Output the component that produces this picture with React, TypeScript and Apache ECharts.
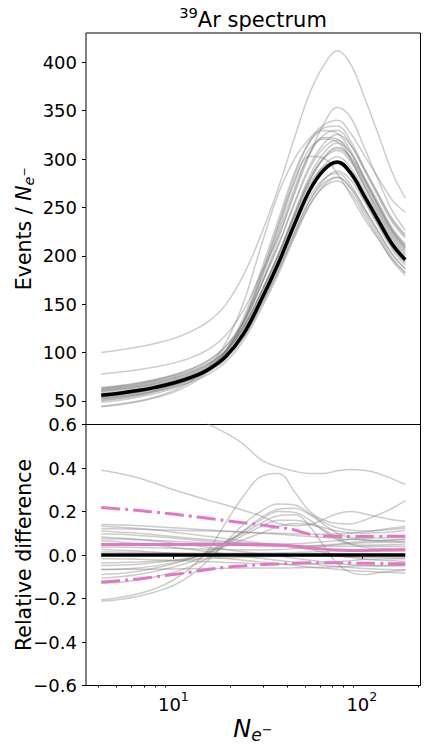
import React, { useEffect, useRef } from 'react';
import * as echarts from 'echarts';

// Sample positions along N_e- (log axis)
const X_VALUES = [4.14, 5.2, 6.5, 8, 10, 12.5, 15.5, 19, 23.5, 29, 36, 44, 53, 63, 74, 87, 103, 122, 145, 170];

// Reference (black) 39Ar spectrum, events / N_e-
const REFERENCE = [55.9, 58, 60.7, 64, 68.5, 74.5, 83, 96, 119, 153, 192, 233, 268, 289, 297, 286, 262, 237, 212, 196];

// Relative differences of the individual (gray) spectra to the reference
const REL_01 = [0.79, 0.77, 0.74, 0.71, 0.67, 0.64, 0.6, 0.56, 0.51, 0.44, 0.405, 0.385, 0.375, 0.375, 0.387, 0.393, 0.39, 0.375, 0.35, 0.324];
const REL_02 = [0.39, 0.375, 0.355, 0.33, 0.3, 0.275, 0.25, 0.23, 0.205, 0.18, 0.145, 0.135, 0.14, 0.165, 0.19, 0.2, 0.19, 0.175, 0.162, 0.155];
const REL_03 = [-0.206, -0.195, -0.178, -0.155, -0.115, -0.055, 0.03, 0.15, 0.27, 0.36, 0.375, 0.29, 0.2, 0.16, 0.145, 0.143, 0.16, 0.185, 0.215, 0.25];
const REL_04 = [-0.213, -0.205, -0.19, -0.17, -0.14, -0.09, -0.02, 0.06, 0.14, 0.2, 0.235, 0.23, 0.19, 0.15, 0.125, 0.115, 0.11, 0.112, 0.118, 0.124];
const REL_05 = [-0.13, -0.125, -0.115, -0.1, -0.08, -0.05, -0.01, 0.05, 0.11, 0.17, 0.21, 0.215, 0.185, 0.14, 0.1, 0.08, 0.07, 0.066, 0.068, 0.07];
const REL_06 = [-0.106, -0.1, -0.09, -0.075, -0.055, -0.03, 0.01, 0.06, 0.11, 0.16, 0.2, 0.195, 0.16, 0.11, 0.07, 0.05, 0.045, 0.046, 0.048, 0.05];
const REL_07 = [-0.09, -0.085, -0.075, -0.06, -0.04, -0.015, 0.02, 0.06, 0.1, 0.145, 0.18, 0.185, 0.13, 0.04, -0.04, -0.08, -0.09, -0.082, -0.075, -0.07];
const REL_08 = [-0.068, -0.065, -0.06, -0.05, -0.035, -0.015, 0.015, 0.05, 0.09, 0.13, 0.16, 0.16, 0.145, 0.125, 0.11, 0.102, 0.1, 0.102, 0.107, 0.114];
const REL_09 = [-0.048, -0.046, -0.042, -0.035, -0.025, -0.01, 0.01, 0.04, 0.07, 0.1, 0.13, 0.145, 0.14, 0.115, 0.08, 0.05, 0.035, 0.03, 0.03, 0.03];
const REL_10 = [0.14, 0.138, 0.135, 0.13, 0.125, 0.12, 0.115, 0.11, 0.105, 0.1, 0.095, 0.09, 0.085, 0.08, 0.076, 0.072, 0.068, 0.064, 0.062, 0.06];
const REL_11 = [0.132, 0.128, 0.122, 0.115, 0.105, 0.095, 0.085, 0.075, 0.065, 0.055, 0.045, 0.035, 0.025, 0.012, 0.0, -0.01, -0.018, -0.024, -0.027, -0.03];
const REL_12 = [0.121, 0.12, 0.118, 0.116, 0.114, 0.112, 0.11, 0.108, 0.105, 0.102, 0.1, 0.098, 0.096, 0.095, 0.096, 0.1, 0.107, 0.115, 0.124, 0.132];
const REL_13 = [0.11, 0.105, 0.1, 0.093, 0.085, 0.077, 0.07, 0.063, 0.057, 0.052, 0.048, 0.045, 0.043, 0.041, 0.04, 0.04, 0.04, 0.04, 0.04, 0.04];
const REL_14 = [0.098, 0.095, 0.09, 0.085, 0.078, 0.07, 0.063, 0.057, 0.052, 0.05, 0.05, 0.052, 0.056, 0.061, 0.066, 0.071, 0.075, 0.078, 0.08, 0.083];
const REL_15 = [0.083, 0.078, 0.072, 0.064, 0.055, 0.045, 0.035, 0.025, 0.015, 0.005, -0.005, -0.015, -0.024, -0.032, -0.039, -0.044, -0.048, -0.05, -0.05, -0.048];
const REL_16 = [0.075, 0.073, 0.07, 0.067, 0.063, 0.059, 0.055, 0.05, 0.046, 0.042, 0.04, 0.04, 0.042, 0.046, 0.051, 0.057, 0.062, 0.067, 0.07, 0.075];
const REL_17 = [0.065, 0.06, 0.053, 0.045, 0.035, 0.025, 0.015, 0.005, -0.005, -0.015, -0.025, -0.033, -0.04, -0.047, -0.053, -0.058, -0.062, -0.065, -0.067, -0.068];
const REL_18 = [0.037, 0.036, 0.035, 0.033, 0.031, 0.029, 0.027, 0.025, 0.024, 0.023, 0.025, 0.03, 0.035, 0.041, 0.047, 0.052, 0.056, 0.058, 0.059, 0.06];
const REL_19 = [0.025, 0.022, 0.018, 0.013, 0.007, 0.0, -0.008, -0.016, -0.024, -0.032, -0.04, -0.048, -0.055, -0.061, -0.066, -0.071, -0.075, -0.078, -0.08, -0.083];
const REL_20 = [0.014, 0.013, 0.012, 0.011, 0.01, 0.009, 0.008, 0.008, 0.008, 0.009, 0.01, 0.012, 0.014, 0.016, 0.018, 0.019, 0.02, 0.02, 0.02, 0.02];
const REL_21 = [-0.017, -0.018, -0.02, -0.022, -0.025, -0.028, -0.031, -0.034, -0.037, -0.04, -0.042, -0.042, -0.04, -0.036, -0.031, -0.026, -0.021, -0.019, -0.017, -0.017];
const REL_22 = [-0.037, -0.035, -0.032, -0.028, -0.024, -0.02, -0.016, -0.013, -0.01, -0.008, -0.006, -0.005, -0.005, -0.006, -0.007, -0.009, -0.01, -0.011, -0.012, -0.013];
const REL_23 = [-0.066, -0.066, -0.066, -0.065, -0.064, -0.063, -0.062, -0.061, -0.06, -0.06, -0.06, -0.059, -0.058, -0.056, -0.054, -0.052, -0.05, -0.049, -0.048, -0.048];

const GRAY_CURVES = [REL_01, REL_02, REL_03, REL_04, REL_05, REL_06, REL_07, REL_08, REL_09, REL_10, REL_11, REL_12,
  REL_13, REL_14, REL_15, REL_16, REL_17, REL_18, REL_19, REL_20, REL_21, REL_22, REL_23];

// Pink summary bands (relative difference)
const PINK_MEAN = [0.048, 0.048, 0.048, 0.048, 0.048, 0.048, 0.048, 0.048, 0.048, 0.047, 0.046, 0.04, 0.033, 0.027, 0.023, 0.021, 0.021, 0.022, 0.023, 0.024];
const PINK_UPPER = [0.218, 0.212, 0.205, 0.197, 0.188, 0.178, 0.168, 0.158, 0.148, 0.139, 0.128, 0.115, 0.095, 0.087, 0.086, 0.085, 0.085, 0.085, 0.086, 0.086];
const PINK_LOWER = [-0.124, -0.118, -0.11, -0.1, -0.09, -0.078, -0.066, -0.056, -0.05, -0.045, -0.041, -0.038, -0.036, -0.036, -0.036, -0.037, -0.038, -0.039, -0.04, -0.04];

// Tick values
const TOP_Y_TICKS = [50, 100, 150, 200, 250, 300, 350, 400];
const X_MAJOR_TICKS = [10, 100];
const X_MINOR_TICKS = [4, 5, 6, 7, 8, 9, 20, 30, 40, 50, 60, 70, 80, 90, 200];

const FONT = 'DejaVu Sans';
const GRAY = 'rgba(128,128,128,0.4)';
const PINK = '#e377c2';

function lineSeries(xi: number, yi: number, data: number[][], color: string, width: number, type: any, z: number) {
  return {
    type: 'line', xAxisIndex: xi, yAxisIndex: yi, data, symbol: 'none', showSymbol: false,
    smooth: 0.4, silent: true, z, emphasis: { disabled: true },
    lineStyle: { color, width, type, cap: 'butt' },
  };
}

function buildOption() {
  const lx = X_VALUES.map((v) => Math.log10(v));
  const span = lx[lx.length - 1] - lx[0];
  const xMin = lx[0] - 0.05 * span;
  const xMax = lx[lx.length - 1] + 0.05 * span;

  const topCurves = GRAY_CURVES.map((rel) => rel.map((r, i) => REFERENCE[i] * (1 + r)));
  const allTop = topCurves.flat().concat(REFERENCE);
  const tMin = Math.min(...allTop);
  const tMax = Math.max(...allTop);
  const yMin = tMin - 0.05 * (tMax - tMin);
  const yMax = tMax + 0.05 * (tMax - tMin);

  const pts = (vals: number[]) => vals.map((v, i) => [lx[i], v]);

  const series: any[] = [];
  topCurves.forEach((c) => series.push(lineSeries(0, 0, pts(c), GRAY, 1.5, 'solid', 2)));
  series.push(lineSeries(0, 0, pts(REFERENCE), '#000', 3.5, 'solid', 5));
  GRAY_CURVES.forEach((c) => series.push(lineSeries(1, 1, pts(c), GRAY, 1.5, 'solid', 2)));
  series.push(lineSeries(1, 1, pts(REFERENCE.map((v) => v / v - 1)), '#000', 3.5, 'solid', 5));
  series.push(lineSeries(1, 1, pts(PINK_MEAN), PINK, 3, 'solid', 6));
  series.push(lineSeries(1, 1, pts(PINK_UPPER), PINK, 3, [19, 5, 3, 5], 6));
  series.push(lineSeries(1, 1, pts(PINK_LOWER), PINK, 3, [19, 5, 3, 5], 6));

  const gridBase = { left: 86, width: 334.5, show: true, borderColor: '#000', borderWidth: 1, backgroundColor: 'transparent', containLabel: false };

  const tickStyle = { color: '#000', width: 1 };
  const labelBase = { color: '#000', fontSize: 18, fontFamily: FONT };

  return {
    animation: false,
    backgroundColor: '#fff',
    textStyle: { fontFamily: FONT },
    grid: [
      { ...gridBase, top: 33, height: 391.5 },
      { ...gridBase, top: 424.5, height: 261 },
    ],
    xAxis: [
      {
        type: 'value', gridIndex: 0, min: xMin, max: xMax, position: 'bottom',
        axisLine: { show: false }, axisTick: { show: false }, axisLabel: { show: false }, splitLine: { show: false },
      },
      {
        type: 'value', gridIndex: 1, min: xMin, max: xMax, position: 'bottom', offset: 0,
        axisLine: { show: false }, splitLine: { show: false },
        axisTick: { show: true, length: 4, lineStyle: tickStyle, customValues: X_MAJOR_TICKS.map((v) => Math.log10(v)) },
        axisLabel: {
          show: true, margin: 4, customValues: X_MAJOR_TICKS.map((v) => Math.log10(v)),
          formatter: (v: number) => `{b|10}{s|${Math.round(v)}}`,
          rich: {
            b: { fontSize: 18, fontFamily: FONT, color: '#000', lineHeight: 30, verticalAlign: 'middle' },
            s: { fontSize: 12.6, fontFamily: FONT, color: '#000', lineHeight: 14, verticalAlign: 'top' },
          },
        },
      },
      {
        type: 'value', gridIndex: 1, min: xMin, max: xMax, position: 'bottom', offset: 0,
        axisLine: { show: false }, splitLine: { show: false }, axisLabel: { show: false },
        axisTick: { show: true, length: 2, lineStyle: tickStyle, customValues: X_MINOR_TICKS.map((v) => Math.log10(v)) },
      },
    ],
    yAxis: [
      {
        type: 'value', gridIndex: 0, min: yMin, max: yMax, position: 'left',
        axisLine: { show: false }, splitLine: { show: false },
        axisTick: { show: true, length: 4, lineStyle: tickStyle, customValues: TOP_Y_TICKS },
        axisLabel: { ...labelBase, margin: 9, customValues: TOP_Y_TICKS },
      },
      {
        type: 'value', gridIndex: 1, min: -0.6, max: 0.6, interval: 0.2, position: 'left',
        axisLine: { show: false }, splitLine: { show: false },
        axisTick: { show: true, length: 4, lineStyle: tickStyle },
        axisLabel: {
          ...labelBase, margin: 9,
          formatter: (v: number) => (v < -1e-9 ? '\u2212' : '') + Math.abs(v).toFixed(1),
        },
      },
    ],
    graphic: [
      {
        type: 'text', x: 253, y: 19.5, silent: true,
        style: {
          text: '{s|39}{b|Ar spectrum}', align: 'center', verticalAlign: 'middle',
          rich: {
            b: { fontSize: 21, fontFamily: FONT, fill: '#000', lineHeight: 30, verticalAlign: 'middle' },
            s: { fontSize: 14.7, fontFamily: FONT, fill: '#000', lineHeight: 15, verticalAlign: 'top' },
          },
        },
      },
      {
        type: 'text', x: 24, y: 228.75, rotation: Math.PI / 2, silent: true,
        style: {
          text: '{t|Events / }{n|N}{e|e}{m|\u2212}', align: 'center', verticalAlign: 'middle',
          rich: {
            t: { fontSize: 20.5, fontFamily: FONT, fill: '#000', lineHeight: 24, verticalAlign: 'middle' },
            n: { fontSize: 20.5, fontFamily: FONT, fontStyle: 'italic', fill: '#000', lineHeight: 24, verticalAlign: 'middle' },
            e: { fontSize: 14.5, fontFamily: FONT, fontStyle: 'italic', fill: '#000', lineHeight: 14.5, verticalAlign: 'bottom' },
            m: { fontSize: 11, fontFamily: FONT, fill: '#000', lineHeight: 11, verticalAlign: 'middle' },
          },
        },
      },
      {
        type: 'text', x: 24, y: 555, rotation: Math.PI / 2, silent: true,
        style: { text: 'Relative difference', fontSize: 20.5, fontFamily: FONT, fill: '#000', align: 'center', verticalAlign: 'middle' },
      },
      {
        type: 'text', x: 253, y: 729, silent: true,
        style: {
          text: '{n|N}{e|e}{m|\u2212}', align: 'center', verticalAlign: 'middle',
          rich: {
            n: { fontSize: 24, fontFamily: FONT, fontStyle: 'italic', fill: '#000', lineHeight: 28, verticalAlign: 'middle' },
            e: { fontSize: 17, fontFamily: FONT, fontStyle: 'italic', fill: '#000', lineHeight: 17, verticalAlign: 'bottom' },
            m: { fontSize: 13, fontFamily: FONT, fill: '#000', lineHeight: 13, verticalAlign: 'middle' },
          },
        },
      },
    ],
    series,
  };
}

export default function App() {
  const ref = useRef<HTMLDivElement>(null);
  useEffect(() => {
    if (!ref.current) return;
    const chart = echarts.init(ref.current, null, { renderer: 'svg' });
    chart.setOption(buildOption() as any);
    return () => chart.dispose();
  }, []);
  return (
    <div
      ref={ref}
      style={{ position: 'fixed', left: 0, top: 0, width: 427, height: 750, background: '#fff' }}
    />
  );
}
